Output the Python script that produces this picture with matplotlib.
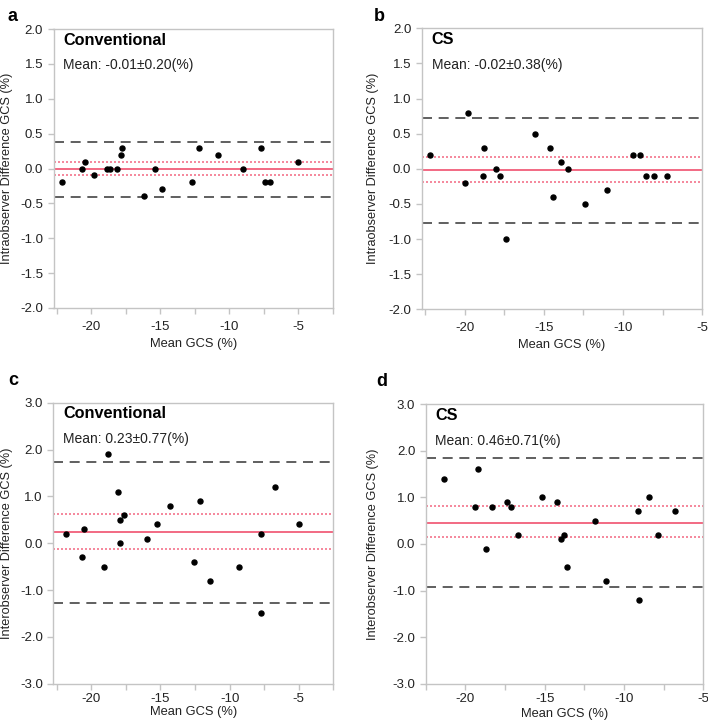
import matplotlib
matplotlib.use('Agg')
import matplotlib.pyplot as plt
from matplotlib.ticker import MultipleLocator, FormatStrFormatter

plt.rcParams['font.family'] = ['Liberation Sans', 'DejaVu Sans']
plt.rcParams['axes.unicode_minus'] = False

# panel a: intraobserver, conventional
a_x = [-22.1, -20.7, -20.5, -19.8, -18.9, -18.65, -18.15, -17.85, -17.8, -16.2,
       -15.4, -14.9, -12.7, -12.2, -10.85, -9.05, -7.7, -7.45, -7.05, -5.05]
a_y = [-0.2, 0.0, 0.1, -0.1, 0.0, 0.0, 0.0, 0.2, 0.3, -0.4,
       0.0, -0.3, -0.2, 0.3, 0.2, 0.0, 0.3, -0.2, -0.2, 0.1]

# panel b: intraobserver, CS
b_x = [-22.15, -20.0, -19.75, -18.85, -18.75, -18.0, -17.75, -17.4, -15.55, -14.6,
       -14.4, -13.9, -13.5, -12.4, -11.0, -9.4, -8.9, -8.55, -8.05, -7.25]
b_y = [0.2, -0.2, 0.8, -0.1, 0.3, 0.0, -0.1, -1.0, 0.5, 0.3,
       -0.4, 0.1, 0.0, -0.5, -0.3, 0.2, 0.2, -0.1, -0.1, -0.1]

# panel c: interobserver, conventional
c_x = [-21.85, -20.7, -20.5, -19.1, -18.8, -18.1, -17.95, -17.9, -17.65, -15.95,
       -15.25, -14.3, -12.6, -12.15, -11.4, -9.35, -7.75, -7.7, -6.75, -4.95]
c_y = [0.2, -0.3, 0.3, -0.5, 1.9, 1.1, 0.0, 0.5, 0.6, 0.1,
       0.4, 0.8, -0.4, 0.9, -0.8, -0.5, 0.2, -1.5, 1.2, 0.4]

# panel d: interobserver, CS
d_x = [-21.35, -19.4, -19.2, -18.7, -18.35, -17.4, -17.15, -16.7, -15.15, -14.2,
       -14.0, -13.75, -13.6, -11.8, -11.15, -9.1, -9.05, -8.45, -7.85, -6.8]
d_y = [1.4, 0.8, 1.6, -0.1, 0.8, 0.9, 0.8, 0.2, 1.0, 0.9,
       0.1, 0.2, -0.5, 0.5, -0.8, 0.7, -1.2, 1.0, 0.2, 0.7]

labels = ['a', 'b', 'c', 'd']
groups = ['Conventional', 'CS', 'Conventional', 'CS']
means = [-0.01, -0.02, 0.23, 0.46]
sds = [0.20, 0.38, 0.77, 0.71]
ci_low = [-0.095, -0.195, -0.12, 0.155]
ci_high = [0.095, 0.175, 0.615, 0.81]
ylabels = ['Intraobserver Difference GCS (%)'] * 2 + ['Interobserver Difference GCS (%)'] * 2

W, H = 708, 724
fig = plt.figure(figsize=(W / 100, H / 100), dpi=100)

# axes boxes in pixels: left, top, right, bottom
boxes = [(53.5, 29, 333, 308), (421.7, 28.3, 702.3, 309.3),
         (53.3, 402.7, 333.3, 683.7), (425.7, 404.3, 703.3, 683.7)]
xlims = [(-22.75, -2.5), (-22.7, -5.0), (-22.75, -2.5), (-22.5, -5.0)]
ylims = [(-2, 2), (-2, 2), (-3, 3), (-3, 3)]
ysteps = [0.5, 0.5, 1.0, 1.0]
label_pos = [(8, 8), (374, 8), (8, 372), (376, 373)]
ylabel_x = [8, 374, 8, 374]
xpads = [5, 5, 3, 3]
xlabelpads = [4, 4, 0.5, 1.5]

data = [(a_x, a_y), (b_x, b_y), (c_x, c_y), (d_x, d_y)]
grey = '#c4c4c4'
pink = '#f0506e'

for i, (xs, ys) in enumerate(data):
    l, t, r, b = boxes[i]
    ax = fig.add_axes([l / W, 1 - b / H, (r - l) / W, (b - t) / H])
    m, sd = means[i], sds[i]
    ax.axhline(m, color=pink, lw=1.2, zorder=2)
    ax.axhline(ci_low[i], color=pink, lw=1.2, ls=(0, (1.2, 1.2)), alpha=0.8, zorder=2)
    ax.axhline(ci_high[i], color=pink, lw=1.2, ls=(0, (1.2, 1.2)), alpha=0.8, zorder=2)
    ax.axhline(m + 1.96 * sd, color='#444444', lw=1.2, ls=(0, (6, 4)), zorder=2)
    ax.axhline(m - 1.96 * sd, color='#444444', lw=1.2, ls=(0, (6, 4)), zorder=2)
    ax.plot(xs, ys, 'o', color='black', ms=3.6, zorder=3)

    ax.set_xlim(*xlims[i])
    ax.set_ylim(*ylims[i])
    ax.xaxis.set_major_locator(MultipleLocator(5))
    ax.xaxis.set_minor_locator(MultipleLocator(2.5))
    ax.yaxis.set_major_locator(MultipleLocator(ysteps[i]))
    ax.yaxis.set_major_formatter(FormatStrFormatter('%.1f'))
    ax.xaxis.set_major_formatter(FormatStrFormatter('%d'))
    for s in ax.spines.values():
        s.set_color(grey)
        s.set_linewidth(1.0)
    ax.tick_params(which='both', direction='out', length=4, width=1.0, color=grey,
                   labelsize=9.5, labelcolor='#222222')
    ax.tick_params(axis='x', pad=xpads[i])

    ax.set_xlabel('Mean GCS (%)', fontsize=9.3, color='#222222', labelpad=xlabelpads[i])
    ax.set_ylabel(ylabels[i], fontsize=9.2, color='#222222')
    ax.yaxis.set_label_coords((ylabel_x[i] + 5 - l) / (r - l), 0.5)

    ax.text(0.035, 0.96, groups[i], transform=ax.transAxes, fontsize=11.7,
            fontweight='bold', va='center', ha='left')
    ax.text(0.035, 0.87, 'Mean: %.2f\u00b1%.2f(%%)' % (m, sd), transform=ax.transAxes,
            fontsize=10, va='center', ha='left', color='#222222')

    lx, ly = label_pos[i]
    fig.text(lx / W, 1 - ly / H, labels[i], fontsize=13, fontweight='bold',
             va='top', ha='left')

fig.savefig('out.png', dpi=100)
